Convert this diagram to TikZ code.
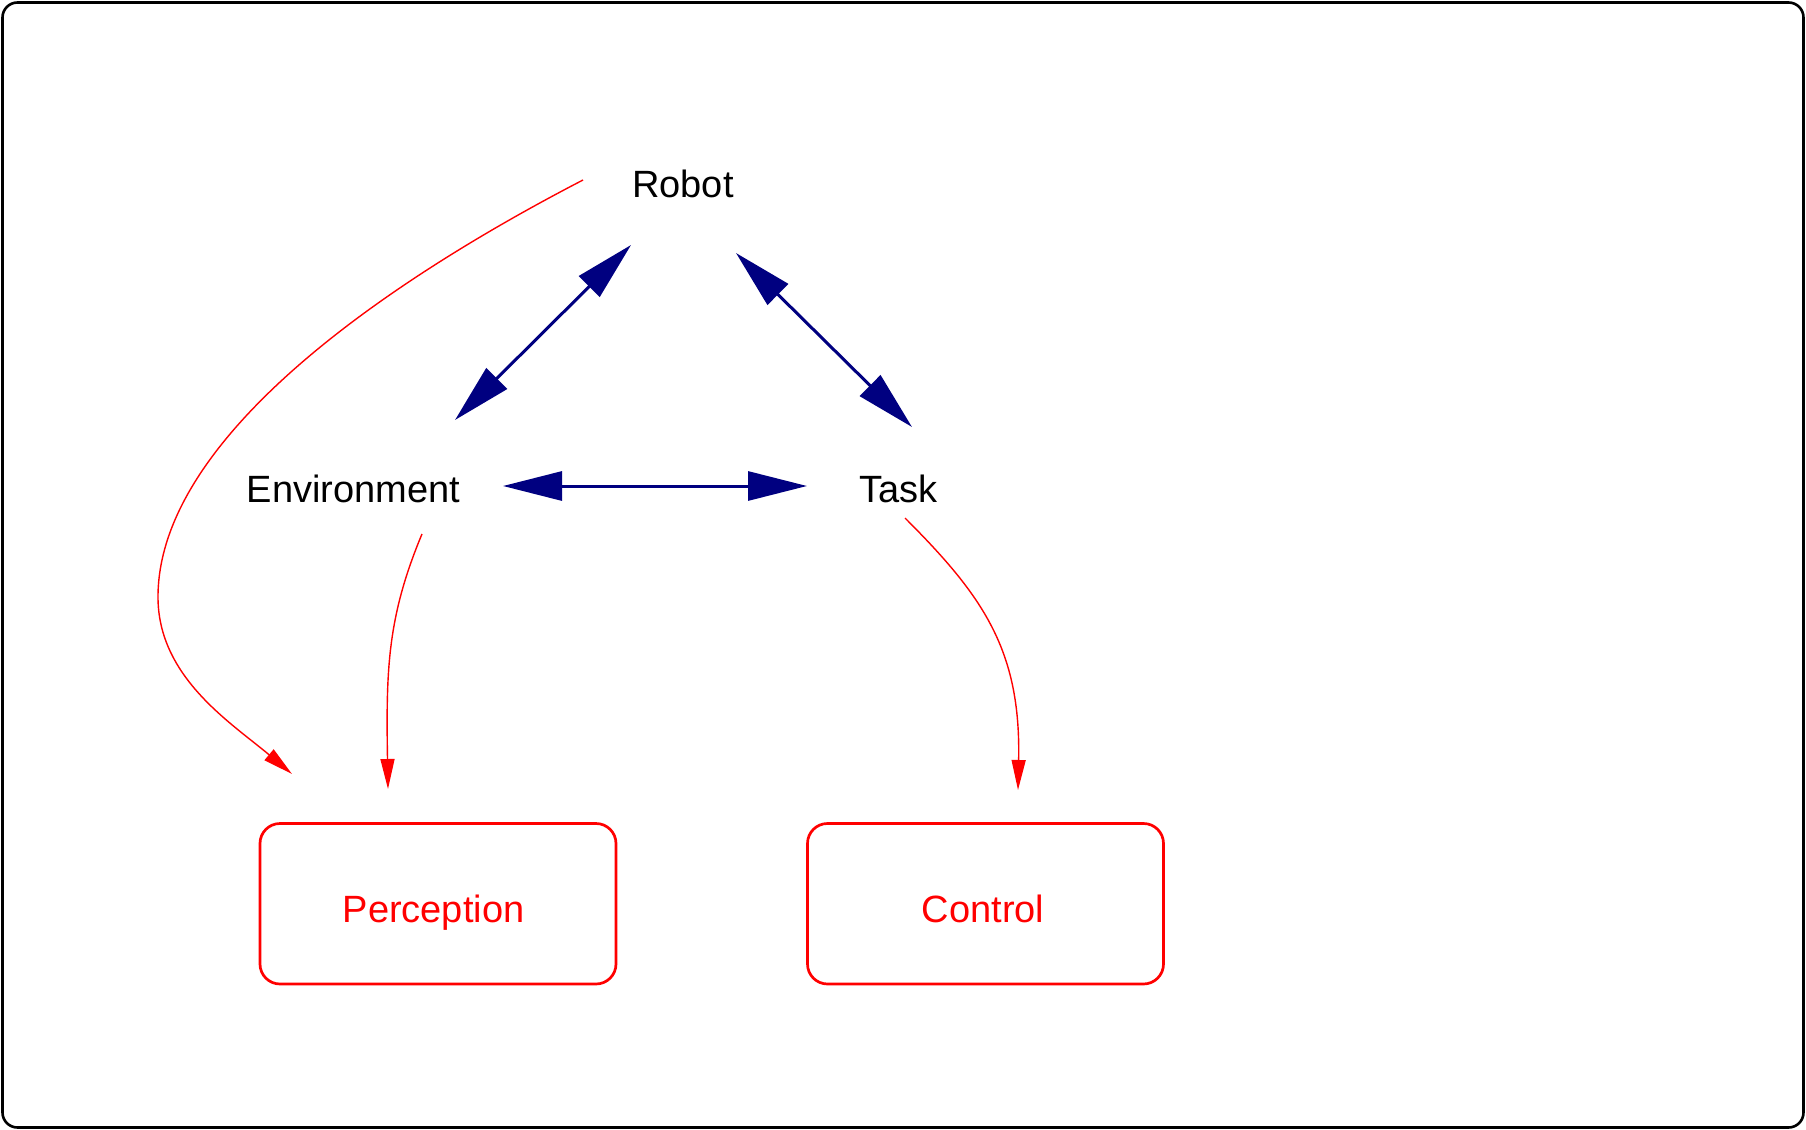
\documentclass[tikz,border=0pt]{standalone}
\usepackage{fontspec}
\setmainfont{Liberation Sans}
\usetikzlibrary{arrows.meta,calc}
\definecolor{navyblue}{RGB}{0,0,128}
\begin{document}
\begin{tikzpicture}[x=0.5pt,y=-0.5pt,
  lbl/.style={inner sep=0pt, anchor=base, font=\fontsize{19pt}{23pt}\selectfont},
  redlbl/.style={lbl, text=red},
  boxnode/.style={draw=red, line width=1.35pt, rounded corners=10pt, minimum width=178pt, minimum height=80.25pt, inner sep=0pt},
  bluearr/.style={draw=navyblue, line width=1.5pt, arrows={Triangle[length=29.5pt,width=14.5pt]-Triangle[length=29.5pt,width=14.5pt]}},
  redarr/.style={draw=red, line width=0.7pt, arrows={-Triangle[length=15pt,width=7pt]}},
  frame/.style={draw=black, line width=1.3pt, rounded corners=7.5pt}
]
\useasboundingbox (0,0) rectangle (1806,1130);
\draw[frame] (2.5,2.5) rectangle (1803.5,1127.5);

\node[lbl] (robot) at (683,197) {Robot};
\node[lbl] (env) at (353.5,502) {Environment};
\node[lbl] (task) at (898.5,502) {Task};
\node[boxnode] (perc) at (438,903.75) {};
\node[boxnode] (ctrl) at (985.5,903.75) {};
\node[redlbl] (perctext) at (433.5,922.7) {Perception};
\node[redlbl] (ctrltext) at (983,922.7) {Control};

\draw[bluearr] ($(robot.base)+(-52,48)$) -- ($(env.base)+(101.5,-82)$);
\draw[bluearr] ($(robot.base)+(53,56)$) -- ($(task.base)+(13.5,-75)$);
\draw[bluearr] ($(env.base)+(149.5,-16)$) -- ($(task.base)+(-91.5,-16)$);

\draw[redarr] ($(robot.base)+(-100,-17)$) .. controls (361,295) and (158,447) .. (158,597)
  .. controls (158,677) and (230.8,722.6) .. ($(perc.center)+(-146,-129.75)$);
\draw[redarr] ($(env.base)+(68.5,32)$) .. controls (387.4,617) and (386,669) .. ($(perc.center)+(-50,-114.75)$);
\draw[redarr] ($(task.base)+(6.5,16)$) .. controls (983,596) and (1021,650) .. ($(ctrl.center)+(32.5,-113.75)$);
\end{tikzpicture}
\end{document}
